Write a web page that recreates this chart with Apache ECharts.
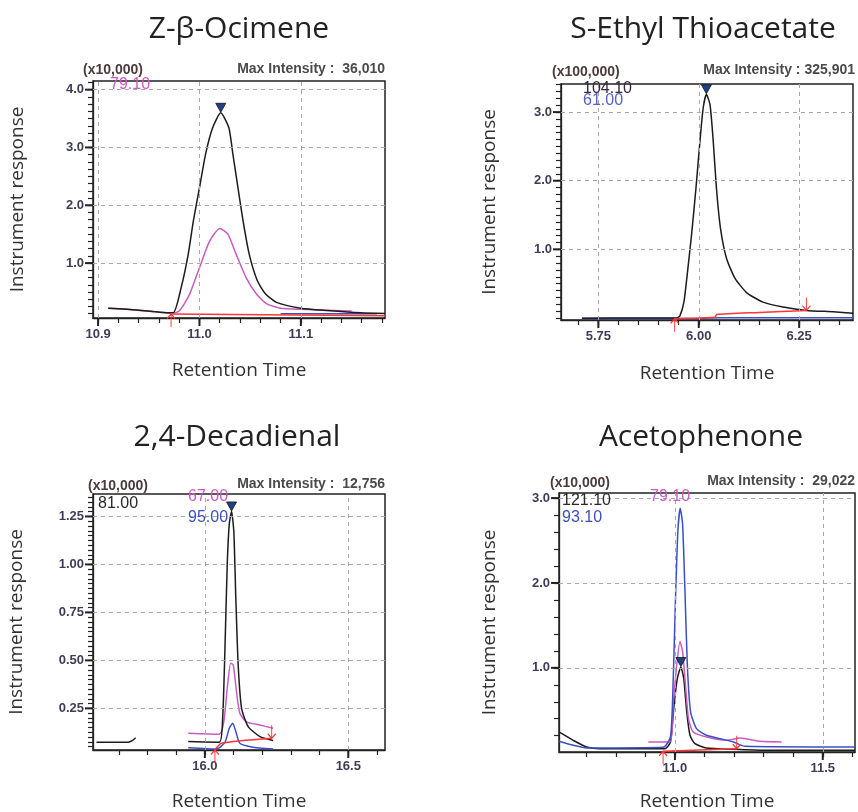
<!DOCTYPE html>
<html>
<head>
<meta charset="utf-8">
<script src="https://cdn.jsdelivr.net/npm/echarts@6/dist/echarts.min.js"></script>
<style>
  html, body { margin: 0; padding: 0; background: #fff; }
  #chart { width: 858px; height: 812px; }
</style>
</head>
<body>
<div id="chart"></div>
<script>
// ---------- Z-β-Ocimene (x10,000) ----------
const ocimeneXTicks = [10.9, 11.0, 11.1];
const ocimeneYTicks = [1, 2, 3, 4];
const ocimeneBlack = [[10.91,0.22],[10.938,0.19],[10.961,0.15],[10.974,0.14],[10.982,0.58],[10.989,1.16],[10.994,1.73],[11.0,2.30],[11.006,2.88],[11.013,3.34],[11.021,3.60],[11.029,3.34],[11.033,2.88],[11.038,2.30],[11.043,1.73],[11.049,1.16],[11.057,0.70],[11.065,0.47],[11.076,0.32],[11.1,0.22],[11.126,0.18],[11.159,0.14],[11.183,0.13]];
const ocimeneMagenta = [[10.91,0.22],[10.938,0.19],[10.961,0.15],[10.972,0.13],[10.98,0.17],[10.99,0.45],[11.0,0.92],[11.01,1.38],[11.02,1.60],[11.028,1.50],[11.036,1.16],[11.046,0.75],[11.056,0.47],[11.066,0.30],[11.08,0.22],[11.1,0.20],[11.15,0.17]];
const ocimeneBlue = [[11.08,0.125],[11.175,0.125]];
const ocimeneBase = [[10.972,0.12],[11.183,0.09]];
const ocimenePeak = [[11.021,3.60]];
const ocimeneCutStart = [[10.972,0.12]];
const ocimeneCutEnd = [];

// ---------- S-Ethyl Thioacetate (x100,000) ----------
const thioXTicks = [5.75, 6.0, 6.25];
const thioYTicks = [1, 2, 3];
const thioBlack = [[5.709,-0.005],[5.85,0.0],[5.945,0.0],[5.953,0.03],[5.963,0.23],[5.971,0.62],[5.982,1.21],[5.993,1.89],[6.003,2.58],[6.011,3.06],[6.019,3.26],[6.028,3.11],[6.036,2.58],[6.044,1.89],[6.054,1.31],[6.069,0.87],[6.09,0.58],[6.119,0.37],[6.16,0.23],[6.21,0.16],[6.268,0.11],[6.335,0.09],[6.384,0.07]];
const thioBlue = [[5.709,-0.008],[6.0,-0.008],[6.05,0.004],[6.384,0.002]];
const thioBase = [[5.94,-0.01],[6.04,0.01],[6.045,0.05],[6.15,0.08],[6.268,0.11]];
const thioPeak = [[6.019,3.26]];
const thioCutStart = [[5.94,-0.01]];
const thioCutEnd = [[6.268,0.11]];

// ---------- 2,4-Decadienal (x10,000) ----------
const decaXTicks = [16.0, 16.5];
const decaYTicks = [0.25, 0.5, 0.75, 1.0, 1.25];
const decaBlack = [[15.622,0.073],[15.733,0.073],[15.748,0.083],[15.759,0.097],[15.85,null],[15.942,0.077],[16.05,0.073],[16.062,0.198],[16.07,0.56],[16.078,1.0],[16.085,1.21],[16.093,1.276],[16.101,1.17],[16.108,0.82],[16.116,0.48],[16.128,0.25],[16.151,0.155],[16.192,0.103],[16.238,0.083]];
const decaMagenta = [[15.942,0.12],[16.05,0.115],[16.066,0.18],[16.079,0.37],[16.09,0.485],[16.099,0.477],[16.11,0.34],[16.122,0.224],[16.145,0.18],[16.192,0.163],[16.238,0.146]];
const decaBlue = [[15.942,0.045],[16.041,0.038],[16.07,0.073],[16.085,0.146],[16.097,0.172],[16.108,0.129],[16.122,0.068],[16.163,0.049],[16.238,0.038]];
const decaBase = [[16.035,0.033],[16.058,0.068],[16.233,0.094]];
const decaPeak = [[16.093,1.276]];
const decaCutStart = [[16.035,0.033]];
const decaCutEnd = [[16.233,0.094]];

// ---------- Acetophenone (x10,000) ----------
const acetoXTicks = [11.0, 11.5];
const acetoYTicks = [1, 2, 3];
const acetoBlack = [[10.608,0.244],[10.656,0.146],[10.701,0.067],[10.746,0.047],[10.966,0.047],[10.985,0.126],[10.997,0.56],[11.008,0.87],[11.02,1.01],[11.03,0.87],[11.04,0.48],[11.051,0.205],[11.068,0.106],[11.107,0.055],[11.198,0.039],[11.31,0.028],[11.609,0.028]];
const acetoBlue = [[10.608,0.134],[10.656,0.087],[10.701,0.055],[10.96,0.063],[10.985,0.185],[10.994,0.83],[11.002,1.82],[11.01,2.61],[11.018,2.88],[11.026,2.69],[11.034,1.9],[11.042,1.03],[11.053,0.48],[11.073,0.283],[11.107,0.205],[11.152,0.165],[11.198,0.126],[11.237,0.075],[11.609,0.067]];
const acetoMagenta = [[10.91,0.126],[10.983,0.126],[10.994,0.56],[11.006,1.03],[11.017,1.31],[11.026,1.19],[11.035,0.83],[11.046,0.40],[11.062,0.244],[11.107,0.185],[11.175,0.146],[11.22,0.173],[11.288,0.134],[11.361,0.126]];
const acetoBase = [[10.96,0.016],[11.209,0.047]];
const acetoPeak = [[11.02,1.01]];
const acetoCutStart = [[10.96,0.016]];
const acetoCutEnd = [[11.209,0.047]];

const BLACK = '#1c1c1c', MAGENTA = '#c95cc0', BLUE = '#3b4fc4', RED = '#ff3535';
const TICK_COLOR = '#3d3d58';

const panels = [
  { grid: {left: 93, top: 81, width: 292, height: 237}, xRange: [10.895, 11.183], yRange: [0.05, 4.15],
    xTicks: ocimeneXTicks, yTicks: ocimeneYTicks, xMinor: 0.02, yMinor: 0.125, xDigits: 1, yDigits: 1,
    gapX: 43, gapY: 66,
    lines: [[ocimeneBlue, BLUE], [ocimeneMagenta, MAGENTA], [ocimeneBlack, BLACK], [ocimeneBase, RED]],
    peak: ocimenePeak, cutStart: ocimeneCutStart, cutEnd: ocimeneCutEnd },
  { grid: {left: 561, top: 84, width: 292, height: 236}, xRange: [5.657, 6.384], yRange: [-0.03, 3.41],
    xTicks: thioXTicks, yTicks: thioYTicks, xMinor: 0.05, yMinor: 0.1, xDigits: 2, yDigits: 1,
    gapX: 44, gapY: 62,
    lines: [[thioBlue, BLUE], [thioBlack, BLACK], [thioBase, RED]],
    peak: thioPeak, cutStart: thioCutStart, cutEnd: thioCutEnd },
  { grid: {left: 93, top: 494, width: 292, height: 256}, xRange: [15.61, 16.628], yRange: [0.033, 1.367],
    xTicks: decaXTicks, yTicks: decaYTicks, xMinor: 0.1, yMinor: 0.025, xDigits: 1, yDigits: 2,
    gapX: 42, gapY: 67,
    lines: [[decaBlue, BLUE], [decaMagenta, MAGENTA], [decaBlack, BLACK], [decaBase, RED]],
    peak: decaPeak, cutStart: decaCutStart, cutEnd: decaCutEnd },
  { grid: {left: 559, top: 493, width: 296, height: 259}, xRange: [10.608, 11.609], yRange: [0.008, 3.06],
    xTicks: acetoXTicks, yTicks: acetoYTicks, xMinor: 0.1, yMinor: 0.2, xDigits: 1, yDigits: 1,
    gapX: 40, gapY: 60,
    lines: [[acetoBlack, BLACK], [acetoMagenta, MAGENTA], [acetoBlue, BLUE], [acetoBase, RED]],
    peak: acetoPeak, cutStart: acetoCutStart, cutEnd: acetoCutEnd }
];

// every tick position (labelled ones plus the small steps) inside the axis ends
function allTicks(range, step, majors) {
  const out = majors.slice();
  const k0 = Math.ceil(range[0] / step - 1e-6), k1 = Math.floor(range[1] / step + 1e-6);
  for (let k = k0; k <= k1; k++) {
    const v = Math.round(k * step * 1e6) / 1e6;
    if (!majors.some(m => Math.abs(m - v) < step / 10)) out.push(v);
  }
  return out.sort((a, b) => a - b);
}

const labelStyle = () => ({ color: TICK_COLOR, fontWeight: 'bold', fontSize: 13, fontFamily: 'Liberation Sans' });
const nameStyle = () => ({ color: '#333', fontSize: 19, fontFamily: 'Open Sans' });

const grids = [], xAxes = [], yAxes = [], series = [];
panels.forEach((p, i) => {
  grids.push(Object.assign({ show: true, borderColor: '#222', borderWidth: 1.5 }, p.grid));
  xAxes.push({
    type: 'value', gridIndex: i, min: p.xRange[0], max: p.xRange[1], position: 'bottom',
    axisLine: { show: true, onZero: false, lineStyle: { color: '#222', width: 1.3 } },
    axisTick: { show: true, customValues: allTicks(p.xRange, p.xMinor, p.xTicks), length: 5, lineStyle: { color: '#222', width: 1.2 } },
    axisLabel: Object.assign({ customValues: p.xTicks, margin: 10, formatter: v => v.toFixed(p.xDigits) }, labelStyle()),
    splitLine: { show: false },
    name: 'Retention Time', nameLocation: 'middle', nameGap: p.gapX, nameTextStyle: nameStyle()
  });
  yAxes.push({
    type: 'value', gridIndex: i, min: p.yRange[0], max: p.yRange[1], position: 'left',
    axisLine: { show: true, onZero: false, lineStyle: { color: '#222', width: 1.3 } },
    axisTick: { show: true, customValues: allTicks(p.yRange, p.yMinor, p.yTicks), length: 5, lineStyle: { color: '#222', width: 1.2 } },
    axisLabel: Object.assign({ customValues: p.yTicks, margin: 9, formatter: v => v.toFixed(p.yDigits) }, labelStyle()),
    splitLine: { show: false },
    name: 'Instrument response', nameLocation: 'middle', nameRotate: 90, nameGap: p.gapY, nameTextStyle: nameStyle()
  });

  p.lines.forEach(([data, color], j) => {
    const s = {
      type: 'line', xAxisIndex: i, yAxisIndex: i, data: data, showSymbol: false,
      connectNulls: false, smooth: 0.2, lineStyle: { color: color, width: 1.5 }
    };
    if (j === 0) {
      // dashed grid lines at the labelled ticks
      s.markLine = {
        silent: true, symbol: 'none', label: { show: false },
        lineStyle: { color: '#a8a8a8', type: [4, 4], width: 1 },
        data: p.xTicks.map(v => ({ xAxis: v })).concat(p.yTicks.map(v => ({ yAxis: v })))
      };
    }
    series.push(s);
  });
  series.push({
    type: 'scatter', xAxisIndex: i, yAxisIndex: i, data: p.peak,
    symbol: 'triangle', symbolRotate: 180, symbolSize: [10, 9], symbolOffset: [0, -5],
    itemStyle: { color: '#20408a', borderColor: '#111', borderWidth: 0.8, opacity: 1 }, z: 5
  });
  series.push({
    type: 'scatter', xAxisIndex: i, yAxisIndex: i, data: p.cutStart, clip: false,
    symbol: 'path://M5,0 L5,14 M0,5 L5,0 L10,5', symbolSize: [8, 13], symbolOffset: [0, 6.5],
    itemStyle: { color: 'transparent', borderColor: RED, borderWidth: 1.2, opacity: 1 }, z: 6
  });
  series.push({
    type: 'scatter', xAxisIndex: i, yAxisIndex: i, data: p.cutEnd, clip: false,
    symbol: 'path://M5,14 L5,0 M0,9 L5,14 L10,9', symbolSize: [8, 13], symbolOffset: [0, -6.5],
    itemStyle: { color: 'transparent', borderColor: RED, borderWidth: 1.2, opacity: 1 }, z: 6
  });

  // longer marks at the labelled ticks
  const x0 = p.xRange[0], y0 = p.yRange[0];
  series.push({
    type: 'scatter', xAxisIndex: i, yAxisIndex: i, data: p.xTicks.map(v => [v, y0]), clip: false,
    symbol: 'rect', symbolSize: [2, 8], symbolOffset: [0, 4], itemStyle: { color: '#222', opacity: 1 }, z: 6
  });
  series.push({
    type: 'scatter', xAxisIndex: i, yAxisIndex: i, data: p.yTicks.map(v => [x0, v]), clip: false,
    symbol: 'rect', symbolSize: [8, 2], symbolOffset: [-4, 0], itemStyle: { color: '#222', opacity: 1 }, z: 6
  });
});

function txt(x, y, text, font, fill, align) {
  return {
    type: 'text', x: x, y: y, z: 10,
    style: { text: text, font: font, fill: fill, align: align || 'left', textAlign: align || 'left',
             verticalAlign: 'middle', textVerticalAlign: 'middle' }
  };
}
const titleFont = '30px "Open Sans"';
const scaleFont = 'bold 14px "Liberation Sans"';
const maxFont = 'bold 14px "Liberation Sans"';
const ionFont = '16px "Liberation Sans"';

const texts = [
  txt(239, 29, 'Z-β-Ocimene', titleFont, '#222', 'center'),
  txt(703, 29, 'S-Ethyl Thioacetate', titleFont, '#222', 'center'),
  txt(237, 437, '2,4-Decadienal', titleFont, '#222', 'center'),
  txt(701, 437, 'Acetophenone', titleFont, '#222', 'center'),

  txt(83, 70, '(x10,000)', scaleFont, '#4a3c3c'),
  txt(385, 69, 'Max Intensity :  36,010', maxFont, '#4a4a4a', 'right'),
  txt(552, 72, '(x100,000)', scaleFont, '#4a3c3c'),
  txt(855, 70, 'Max Intensity : 325,901', maxFont, '#4a4a4a', 'right'),
  txt(88, 486, '(x10,000)', scaleFont, '#4a3c3c'),
  txt(385, 484, 'Max Intensity :  12,756', maxFont, '#4a4a4a', 'right'),
  txt(550, 483, '(x10,000)', scaleFont, '#4a3c3c'),
  txt(855, 481, 'Max Intensity :  29,022', maxFont, '#4a4a4a', 'right'),

  txt(110, 85, '79.10', ionFont, MAGENTA),
  txt(583, 89, '104.10', ionFont, '#3a2a40'),
  txt(583, 101, '61.00', ionFont, '#5563c8'),
  txt(98, 504, '81.00', ionFont, '#2a2a2a'),
  txt(188, 497, '67.00', ionFont, MAGENTA),
  txt(188, 518, '95.00', ionFont, BLUE),
  txt(562, 501, '121.10', ionFont, '#2a2a2a'),
  txt(562, 518, '93.10', ionFont, BLUE),
  txt(650, 497, '79.10', ionFont, MAGENTA)
];

const chart = echarts.init(document.getElementById('chart'));
chart.setOption({
  animation: false,
  grid: grids,
  xAxis: xAxes,
  yAxis: yAxes,
  series: series,
  graphic: texts
});
</script>
</body>
</html>
